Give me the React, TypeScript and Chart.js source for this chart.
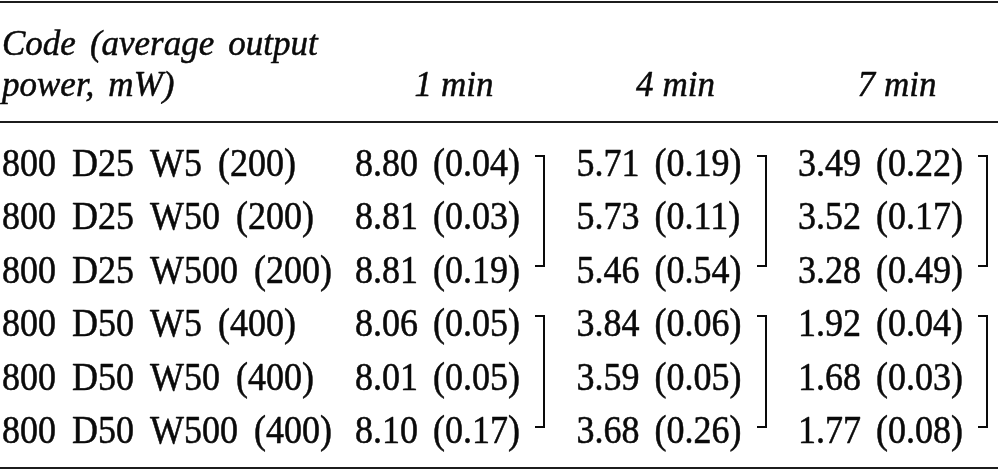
import React, { useEffect, useRef } from "react";
import { Chart, registerables } from "chart.js";

Chart.register(...registerables);

// ---- data ----
const columns = ["1 min", "4 min", "7 min"];
const codes = [
  "800 D25 W5 (200)",
  "800 D25 W50 (200)",
  "800 D25 W500 (200)",
  "800 D50 W5 (400)",
  "800 D50 W50 (400)",
  "800 D50 W500 (400)",
];
const mean1 = [8.8, 8.81, 8.81, 8.06, 8.01, 8.1];
const sd1 = [0.04, 0.03, 0.19, 0.05, 0.05, 0.17];
const mean4 = [5.71, 5.73, 5.46, 3.84, 3.59, 3.68];
const sd4 = [0.19, 0.11, 0.54, 0.06, 0.05, 0.26];
const mean7 = [3.49, 3.52, 3.28, 1.92, 1.68, 1.77];
const sd7 = [0.22, 0.17, 0.49, 0.04, 0.03, 0.08];
const headerLines = ["Code (average output", "power, mW)"];
const groups = [
  [0, 2],
  [3, 5],
];

const means = [mean1, mean4, mean7];
const sds = [sd1, sd4, sd7];

// ---- style ----
const W = 998;
const H = 471;
const FONT = '"Liberation Serif", "Times New Roman", serif';
const BODY_SIZE = 36;
const HEAD_SIZE = 35;
const STRETCH = 1.1;
const TEXT = "#0a0a0a";
const RULE = "#1c1c1c";

function drawWords(
  ctx: CanvasRenderingContext2D,
  text: string,
  x: number,
  y: number,
  gap: number,
  align: "left" | "center",
  stretch: number
) {
  const words = text.split(" ");
  const widths = words.map((w) => ctx.measureText(w).width);
  const total = widths.reduce((a, b) => a + b, 0) + gap * (words.length - 1);
  let cx = align === "center" ? x - total / 2 : x;
  ctx.textAlign = "left";
  ctx.textBaseline = "alphabetic";
  words.forEach((w, i) => {
    ctx.save();
    ctx.translate(cx, y);
    ctx.scale(1, stretch);
    ctx.fillText(w, 0, 0);
    ctx.strokeText(w, 0, 0);
    ctx.restore();
    cx += widths[i] + gap;
  });
}

const tablePlugin = {
  id: "tableDraw",
  afterDraw(chart: any) {
    const ctx: CanvasRenderingContext2D = chart.ctx;
    const xs = chart.scales.x;
    const ys = chart.scales.y;
    ctx.save();

    // rules
    ctx.strokeStyle = RULE;
    ctx.lineWidth = 2;
    [2, 122, 468].forEach((y) => {
      ctx.beginPath();
      ctx.moveTo(0, y);
      ctx.lineTo(W, y);
      ctx.stroke();
    });

    ctx.fillStyle = TEXT;
    ctx.strokeStyle = TEXT;
    ctx.lineWidth = 0.5;
    ctx.lineJoin = "round";

    // header
    ctx.font = `italic ${HEAD_SIZE}px ${FONT}`;
    drawWords(ctx, headerLines[0], 2, 55, 14, "left", 1.05);
    drawWords(ctx, headerLines[1], 2, 96, 14, "left", 1.05);
    columns.forEach((c, j) => {
      drawWords(ctx, c, xs.getPixelForValue(j), 96, 9, "center", 1.05);
    });

    // body
    ctx.font = `${BODY_SIZE}px ${FONT}`;
    codes.forEach((code, i) => {
      const yc = ys.getPixelForValue(i);
      const base = yc + 13.5;
      drawWords(ctx, code, 2, base, 16, "left", STRETCH);
      columns.forEach((_, j) => {
        const xc = xs.getPixelForValue(j);
        const s = `${means[j][i].toFixed(2)} (${sds[j][i].toFixed(2)})`;
        drawWords(ctx, s, xc - 99, base, 15, "left", STRETCH);
      });
    });

    // brackets
    ctx.strokeStyle = TEXT;
    ctx.lineWidth = 2;
    ctx.lineJoin = "miter";
    columns.forEach((_, j) => {
      const bx = Math.round(xs.getPixelForValue(j) + 90);
      groups.forEach(([a, b]) => {
        const top = Math.round(ys.getPixelForValue(a) - 7);
        const bot = Math.round(ys.getPixelForValue(b) - 3);
        ctx.beginPath();
        ctx.moveTo(bx - 9, top);
        ctx.lineTo(bx, top);
        ctx.lineTo(bx, bot);
        ctx.lineTo(bx - 9, bot);
        ctx.stroke();
      });
    });

    ctx.restore();
  },
};

export default function App() {
  const ref = useRef<HTMLCanvasElement>(null);
  useEffect(() => {
    if (!ref.current) return;
    const chart = new Chart(ref.current, {
      type: "scatter",
      data: { datasets: [] },
      options: {
        responsive: false,
        animation: false,
        devicePixelRatio: 1,
        events: [],
        layout: { padding: { left: 454, right: 101, top: 162.5, bottom: 41.5 } },
        plugins: { legend: { display: false }, tooltip: { enabled: false }, title: { display: false } },
        scales: {
          x: { type: "category", labels: columns, offset: false, display: false },
          y: { type: "category", labels: codes, offset: false, display: false },
        },
      },
      plugins: [tablePlugin],
    } as any);
    return () => chart.destroy();
  }, []);
  return (
    <div style={{ position: "fixed", left: 0, top: 0, width: W, height: H, background: "#fff" }}>
      <canvas ref={ref} width={W} height={H} />
    </div>
  );
}
